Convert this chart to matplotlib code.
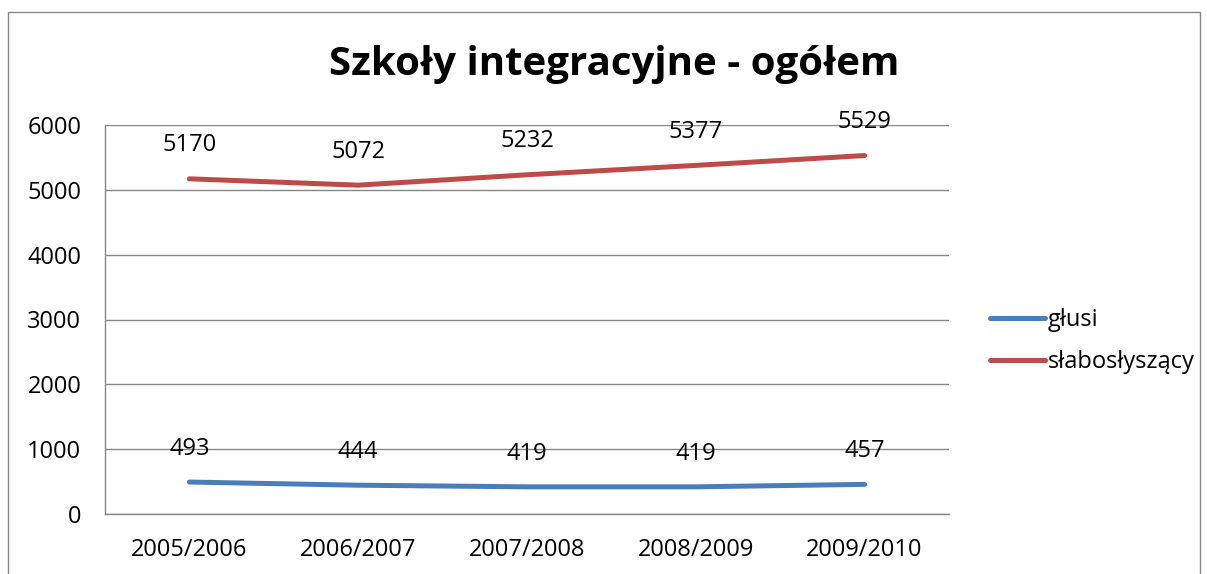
import matplotlib.pyplot as plt
from matplotlib.patches import Rectangle

# data
years = ['2005/2006', '2006/2007', '2007/2008', '2008/2009', '2009/2010']
glusi = [493, 444, 419, 419, 457]
slabo = [5170, 5072, 5232, 5377, 5529]

plt.rcParams['font.family'] = ['Open Sans', 'DejaVu Sans']
fs = 17

fig = plt.figure(figsize=(12.07, 5.74), dpi=100)
ax = fig.add_axes([105 / 1207, 1 - 514 / 574, 844 / 1207, 389 / 574])

grid_c = '#868686'
x = range(len(years))
ax.plot(x, glusi, color='#4A7EBB', lw=3.6, solid_capstyle='round', label='głusi')
ax.plot(x, slabo, color='#BE4B48', lw=3.6, solid_capstyle='round', label='słabosłyszący')

for series in (glusi, slabo):
    for i, v in enumerate(series):
        ax.annotate(str(v), (i, v), xytext=(0, 24), textcoords='offset points',
                    ha='center', va='center', fontsize=fs)

ax.set_xlim(-0.5, len(years) - 0.5)
ax.set_ylim(0, 6000)
ax.set_yticks(range(0, 6001, 1000))
ax.set_xticks(list(x))
ax.set_xticklabels(years)
ax.tick_params(axis='both', length=0, labelsize=fs)
ax.tick_params(axis='x', pad=17)
ax.tick_params(axis='y', pad=17)

ax.yaxis.grid(True, color=grid_c, lw=1)
ax.set_axisbelow(True)
for s in ('top', 'right'):
    ax.spines[s].set_visible(False)
for s in ('left', 'bottom'):
    ax.spines[s].set_color(grid_c)
    ax.spines[s].set_linewidth(1)

fig.text(614 / 1207, 1 - 64 / 574, 'Szkoły integracyjne - ogółem',
         ha='center', va='center', fontsize=29, fontweight='bold')

ax.legend(loc='center left', bbox_to_anchor=(990 / 1207, 1 - 341 / 574),
          bbox_transform=fig.transFigure, frameon=False, fontsize=fs,
          handlelength=2.35, handletextpad=0.1, labelspacing=0.75,
          borderpad=0, borderaxespad=0)

# chart border
fig.patches.append(Rectangle((8 / 1207, -0.05), (1200 - 8) / 1207, 1.05 - 12 / 574,
                             transform=fig.transFigure, fill=False,
                             edgecolor=grid_c, lw=1))

fig.savefig('out.png', dpi=100)
